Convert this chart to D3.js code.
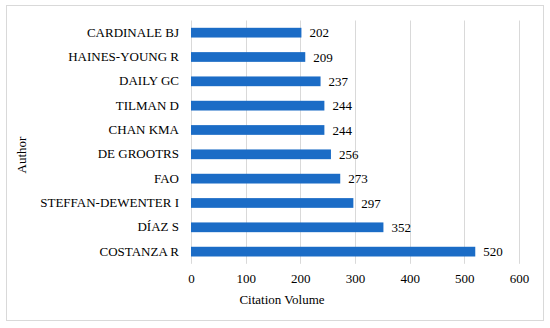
<!DOCTYPE html>
<html><head><meta charset="utf-8">
<script src="https://cdn.jsdelivr.net/npm/d3@7"></script>
<style>body{margin:0;background:#fff}svg{display:block}svg text{font-family:"Liberation Serif","Times New Roman","DejaVu Serif",serif !important;}</style>
</head><body>
<script>
const authors = ["CARDINALE BJ","HAINES-YOUNG R","DAILY GC","TILMAN D","CHAN KMA","DE GROOTRS","FAO","STEFFAN-DEWENTER I","DÍAZ S","COSTANZA R"];
const citations = [202,209,237,244,244,256,273,297,352,520];
const xTicks = [0,100,200,300,400,500,600];

const W = 550, H = 328;
const svg = d3.select("body").append("svg").attr("width", W).attr("height", H);

svg.append("rect").attr("x",6.5).attr("y",5.5).attr("width",537).attr("height",315)
  .attr("fill","#fff").attr("stroke","#d9d9d9").attr("stroke-width",1);

const x = d3.scaleLinear().domain([0,600]).range([191,519]);
const y = d3.scaleBand().domain(authors).range([20.5,263.8]).paddingInner(0.6).paddingOuter(0.3);

// gridlines
svg.append("g").selectAll("line").data(xTicks).join("line")
  .attr("x1",d=>Math.round(x(d))+0.5).attr("x2",d=>Math.round(x(d))+0.5)
  .attr("y1",20.5).attr("y2",263.8).attr("stroke","#d9d9d9").attr("stroke-width",1);

// x axis labels
const xa = svg.append("g").attr("transform","translate(0,263.8)")
  .call(d3.axisBottom(x).tickValues(xTicks).tickSize(0).tickPadding(10).tickFormat(d3.format("d")));
xa.select(".domain").remove();
xa.selectAll("text").attr("font-size",13).attr("fill","#000");

// y axis labels
const ya = svg.append("g").attr("transform","translate(191,0)")
  .call(d3.axisLeft(y).tickSize(0).tickPadding(12));
ya.select(".domain").remove();
ya.selectAll("text").attr("font-size",13).attr("fill","#000");

// bars
const data = authors.map((a,i)=>({a, v: citations[i]}));
svg.append("g").selectAll("rect").data(data).join("rect")
  .attr("x",x(0)).attr("y",d=>y(d.a)).attr("width",d=>x(d.v)-x(0)).attr("height",y.bandwidth())
  .attr("fill","#1b6cc6");

// value labels
svg.append("g").selectAll("text").data(data).join("text")
  .attr("x",d=>x(d.v)+8).attr("y",d=>y(d.a)+y.bandwidth()/2).attr("dy","0.35em")
  .attr("font-size",13).attr("fill","#000").text(d=>d.v);

// axis titles
svg.append("text").attr("x",282).attr("y",304).attr("text-anchor","middle")
  .attr("font-size",13).attr("fill","#000").text("Citation Volume");
svg.append("text").attr("transform","translate(26,155) rotate(-90)").attr("text-anchor","middle")
  .attr("font-size",13).attr("fill","#000").text("Author");
</script>
</body></html>
